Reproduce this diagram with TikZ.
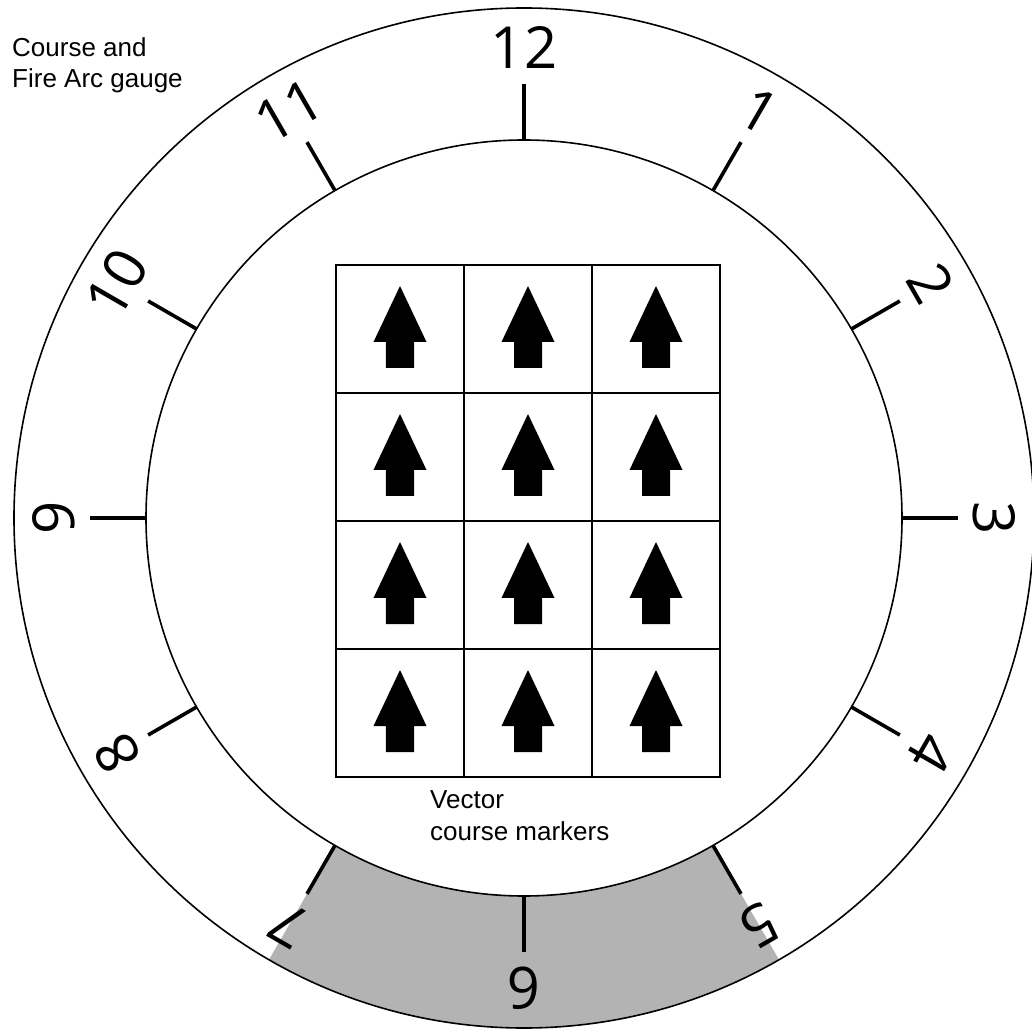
\documentclass[tikz,border=0pt]{standalone}
\usepackage{fontspec}
\setmainfont{Liberation Sans}
\newfontfamily\numfont{Open Sans}
\definecolor{arcgray}{RGB}{179,179,179}
\begin{document}
\begin{tikzpicture}[x=1pt,y=1pt,
  ring/.style={line width=1.6pt, black},
  ticky/.style={line width=3.6pt, black},
  gridline/.style={line width=1.4pt, black},
  hournum/.style={font=\numfont\fontsize{58}{60}\selectfont, inner sep=0pt},
  caption/.style={font=\fontsize{26}{31}\selectfont, inner sep=0pt, anchor=base west},
  marker/.style={fill=black}
]
\useasboundingbox (-524,-514) rectangle (508,518);
\coordinate (c) at (0,0);
% gray fire arc
\fill[arcgray] (240:378pt) arc[start angle=240,end angle=300,radius=378pt]
  -- (300:510pt) arc[start angle=300,end angle=240,radius=510pt] -- cycle;
% rings
\draw[ring] (c) circle[radius=510pt];
\draw[ring] (c) circle[radius=378pt];
% ticks and numbers
\foreach \h in {1,...,12} {
  \pgfmathsetmacro{\ang}{90-30*\h}
  \draw[ticky] (\ang:378pt) -- (\ang:434pt);
  \node[hournum, rotate=-30*\h] (h\h) at (\ang:470pt) {\h};
}
% grid of course markers
\foreach \i in {0,1,2} {
  \foreach \j in {0,1,2,3} {
    \pgfmathsetmacro{\X}{-188+128*\i}
    \pgfmathsetmacro{\Y}{253-128*\j}
    \draw[gridline] (\X,\Y) rectangle ++(128,-128);
    \fill[marker] (\X+64,\Y-21) -- (\X+90.5,\Y-77) -- (\X+78,\Y-77)
      -- (\X+78,\Y-103) -- (\X+50,\Y-103) -- (\X+50,\Y-77)
      -- (\X+37.5,\Y-77) -- cycle;
  }
}
% captions
\node[caption] (t1) at (-512,461) {Course and};
\node[caption] (t2) at (-512,430) {Fire Arc gauge};
\node[caption] (t3) at (-94,-290) {Vector};
\node[caption] (t4) at (-94,-322) {course markers};
\end{tikzpicture}
\end{document}
